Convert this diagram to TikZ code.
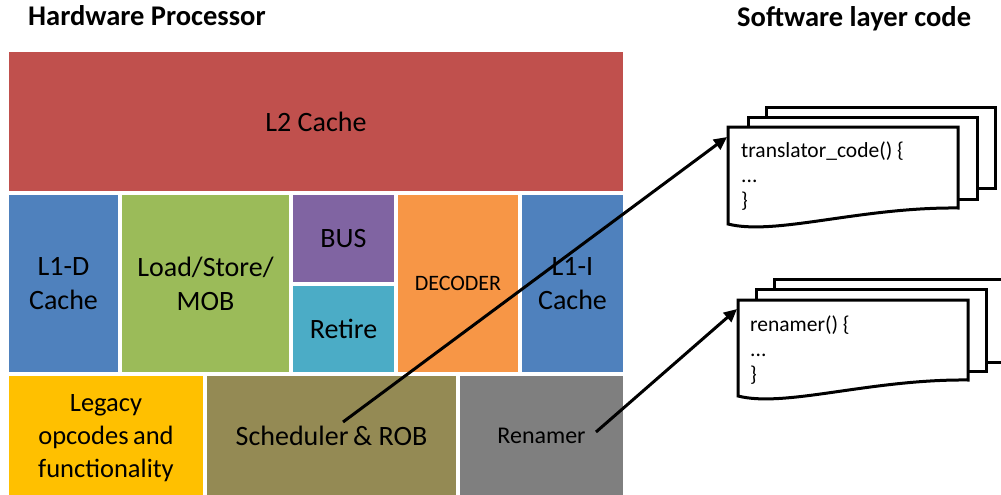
\documentclass[tikz,border=0pt]{standalone}
\usepackage{fontspec}
\setmainfont{Carlito}
\usetikzlibrary{arrows.meta}
\definecolor{cLtwo}{HTML}{C0504D}
\definecolor{cLone}{HTML}{4F81BD}
\definecolor{cLoad}{HTML}{9BBB59}
\definecolor{cBus}{HTML}{8064A2}
\definecolor{cRet}{HTML}{4BACC6}
\definecolor{cDec}{HTML}{F79646}
\definecolor{cLeg}{HTML}{FFC000}
\definecolor{cSch}{HTML}{948A54}
\definecolor{cRen}{HTML}{7F7F7F}
\begin{document}
\begin{tikzpicture}[x=1pt,y=-1pt,
  blk/.style={rectangle,inner sep=0pt,outer sep=0pt,align=center,
    font=\fontsize{28}{34}\selectfont},
  hdr/.style={anchor=base west,inner sep=0pt,font=\fontsize{28.5}{33}\selectfont\bfseries},
  codeline/.style={anchor=base west,inner sep=0pt,font=\fontsize{21.5}{25}\selectfont},
  page/.style={draw=black,fill=white,line width=3pt,line join=miter},
  ptr/.style={draw=black,line width=3pt,-{Triangle[length=13pt,width=12pt]}}]
\fill[white] (0,0) rectangle (1001,495);
\useasboundingbox (0,0) rectangle (1001,495);

% headers
\node[hdr] (hw) at (28,26) {Hardware Processor};
\node[hdr] (sw) at (737,27) {Software layer code};

% processor blocks
\node[blk,fill=cLtwo,minimum width=614pt,minimum height=139pt] (l2) at (316,121.5) {L2 Cache};
\node[blk,fill=cLone,minimum width=109pt,minimum height=177pt] (l1d) at (63.5,283.5) {L1-D\\Cache};
\node[blk,fill=cLoad,minimum width=167pt,minimum height=177pt] (ls) at (205.5,283.5) {Load/Store/\\MOB};
\node[blk,fill=cBus,minimum width=101pt,minimum height=87pt] (bus) at (343.5,238.5) {BUS};
\node[blk,fill=cRet,minimum width=101pt,minimum height=86pt] (ret) at (343.5,329) {Retire};
\node[blk,fill=cDec,minimum width=120pt,minimum height=177pt,font=\fontsize{22}{26}\selectfont] (dec) at (458,283.5) {DECODER};
\node[blk,fill=cLone,minimum width=101pt,minimum height=177pt] (l1i) at (572.5,283.5) {L1-I\\Cache};
\node[blk,fill=cLeg,minimum width=194pt,minimum height=119pt,font=\fontsize{26.5}{33}\selectfont] (leg) at (106,435.5) {};
\node[blk,font=\fontsize{26.5}{33}\selectfont] (legt) at (106,438) {Legacy\\opcodes\,and\\functionality};
\node[blk,fill=cSch,minimum width=249pt,minimum height=119pt] (sch) at (331.5,435.5) {Scheduler\,\& ROB};
\node[blk,fill=cRen,minimum width=163pt,minimum height=119pt,font=\fontsize{24}{28}\selectfont] (ren) at (541.5,435.5) {Renamer};

% top code stack
\draw[page] (766,107) rectangle (995,188);
\draw[page] (748,117) rectangle (977,199);
\draw[page] (728,127) -- (958,127) -- (958,208)
  .. controls (860,207) and (775,236) .. (728,224) -- cycle;
\coordinate (p1) at (727,137);
\node[codeline] (ta) at (741,157) {translator\_code() \{};
\node[codeline] (tb) at (741,182) {...};
\node[codeline] (tc) at (741,207) {\}};

% bottom code stack
\draw[page] (774,279) rectangle (1012,362);
\draw[page] (756,289) rectangle (986,371);
\draw[page] (738,300) -- (968,300) -- (968,380)
  .. controls (870,379) and (785,408) .. (738,396) -- cycle;
\coordinate (q1) at (737,309);
\node[codeline] (ra) at (750,331) {renamer() \{};
\node[codeline] (rb) at (750,356) {...};
\node[codeline] (rc) at (750,381) {\}};

% pointers
\coordinate (s1) at (343,422);
\coordinate (s2) at (596,432);
\draw[ptr] (s1) -- (p1);
\draw[ptr] (s2) -- (q1);
\end{tikzpicture}
\end{document}
